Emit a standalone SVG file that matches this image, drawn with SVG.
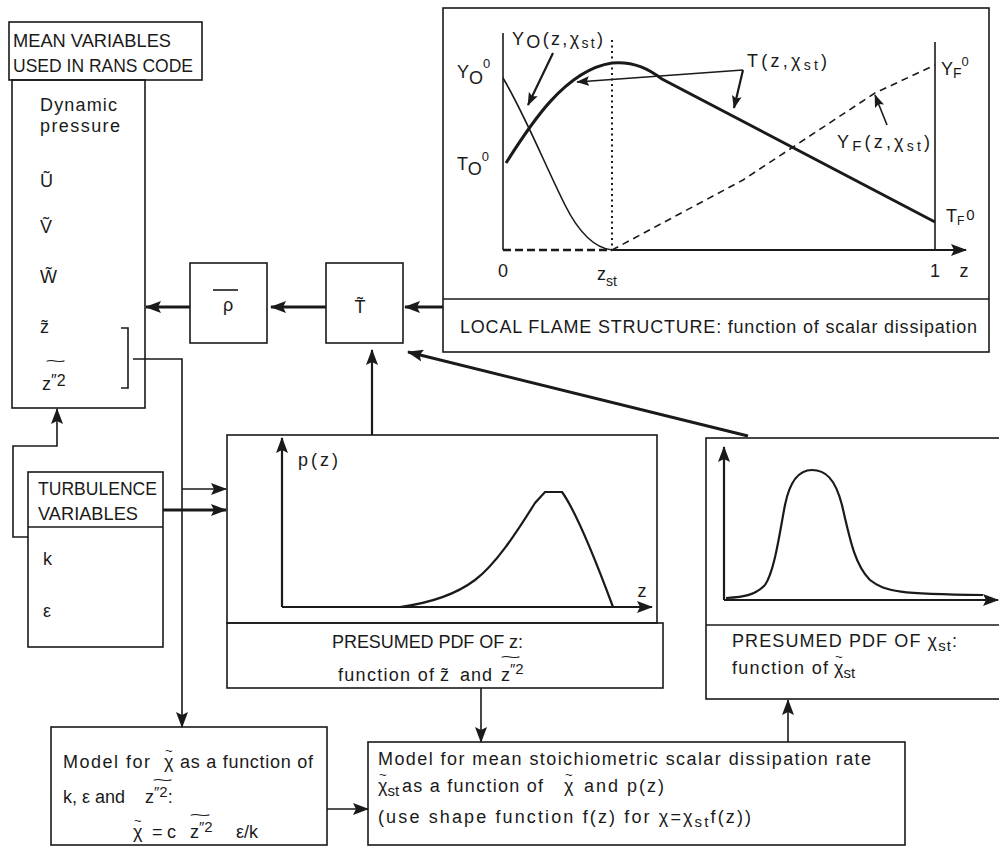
<svg xmlns="http://www.w3.org/2000/svg" width="999" height="850" viewBox="0 0 999 850">
<defs>
<style>
.b{fill:none;stroke:#1a1a1a;stroke-width:1.6}
.l{fill:none;stroke:#1a1a1a;stroke-width:1.6}
.m{fill:none;stroke:#1a1a1a;stroke-width:2.2}
.k{fill:none;stroke:#1a1a1a;stroke-width:3}
.t{font-family:"Liberation Sans",Arial,sans-serif;fill:#1a1a1a;font-size:18px}
.s{font-family:"Liberation Sans",Arial,sans-serif;fill:#1a1a1a;font-size:14px}
</style>
<marker id="ah" viewBox="0 0 16 12" refX="15" refY="6" markerWidth="16" markerHeight="12" markerUnits="userSpaceOnUse" orient="auto"><path d="M0,0L16,6L0,12L3,6Z" fill="#1a1a1a"/></marker>
<marker id="as" viewBox="0 0 16 12" refX="15" refY="6" markerWidth="13" markerHeight="10" markerUnits="userSpaceOnUse" orient="auto"><path d="M0,0L16,6L0,12L3,6Z" fill="#1a1a1a"/></marker>
</defs>
<rect width="999" height="850" fill="#fff"/>

<g id="mean-variables">
<rect class="b" x="9" y="22" width="193" height="58"/>
<text class="t" x="13" y="47" textLength="158" lengthAdjust="spacingAndGlyphs">MEAN VARIABLES</text>
<text class="t" x="13" y="72" textLength="180" lengthAdjust="spacingAndGlyphs">USED IN RANS CODE</text>
<rect class="b" x="12" y="80" width="133" height="328"/>
<text class="t" x="40" y="111" textLength="77">Dynamic</text>
<text class="t" x="40" y="132" textLength="80">pressure</text>
<text class="t" x="40" y="187">U&#x303;</text>
<text class="t" x="40" y="233">V&#x303;</text>
<text class="t" x="40" y="283">W&#x303;</text>
<text class="t" x="40" y="333">z&#x303;</text>
<text class="s" x="45" y="366" font-size="20" textLength="21" lengthAdjust="spacingAndGlyphs">~</text>
<text class="t" x="42" y="390">z<tspan dy="-4" font-size="16">″2</tspan></text>
<path class="l" d="M121,328H128V388H121"/>
</g>

<g id="rho">
<rect class="b" x="190" y="263" width="77" height="80"/>
<line class="l" x1="213" y1="290" x2="238" y2="290"/>
<text class="t" x="228" y="311" font-size="21" text-anchor="middle">ρ</text>
</g>

<g id="T-mean">
<rect class="b" x="326" y="263" width="77" height="80"/>
<text class="t" x="360" y="313" font-size="20" text-anchor="middle">T&#x303;</text>
</g>

<g id="flame-structure">
<rect class="b" x="443" y="8" width="546" height="344"/>
<line class="b" x1="443" y1="299" x2="989" y2="299"/>
<text class="t" x="460" y="333" textLength="517">LOCAL FLAME STRUCTURE: function of scalar dissipation</text>
<path class="l" d="M503,33V250"/>
<path class="l" d="M935,42V250"/>
<path class="m" marker-end="url(#ah)" d="M612,250H966"/>
<path d="M612,40V250" fill="none" stroke="#1a1a1a" stroke-width="2" stroke-dasharray="2 3.5"/>
<path d="M503,250H612" fill="none" stroke="#1a1a1a" stroke-width="2.5" stroke-dasharray="8 4"/>
<path d="M612,250L743,180L875,93L935,65" fill="none" stroke="#1a1a1a" stroke-width="1.6" stroke-dasharray="7 5"/>
<path class="k" d="M506,163C530,125 565,70 612,63C635,61 650,70 662,79L935,222"/>
<path class="l" d="M503,78C525,115 545,165 565,205C580,235 595,248 612,250"/>
<path class="m" marker-end="url(#as)" d="M553,53L528,105"/>
<path class="l" marker-end="url(#as)" d="M743,70L577,82"/>
<path class="m" marker-end="url(#as)" d="M743,70L734,108"/>
<path class="l" marker-end="url(#as)" d="M887,125L875,95"/>
<text class="t" x="512" y="45" font-size="17" textLength="91">Y<tspan dy="3">O</tspan><tspan dy="-3">(z,χ</tspan><tspan dy="3" font-size="14">st</tspan><tspan dy="-3">)</tspan></text>
<text class="t" x="747" y="67" font-size="17" textLength="80">T(z,χ<tspan dy="3" font-size="14">st</tspan><tspan dy="-3">)</tspan></text>
<text class="t" x="837" y="148" font-size="17" textLength="93">Y<tspan dy="3" font-size="15">F</tspan><tspan dy="-3">(z,χ</tspan><tspan dy="3" font-size="14">st</tspan><tspan dy="-3">)</tspan></text>
<text class="t" x="457" y="78" font-size="16">Y<tspan dy="6">O</tspan><tspan dy="-16" font-size="13">0</tspan></text>
<text class="t" x="457" y="170" font-size="16">T<tspan dy="5">O</tspan><tspan dy="-14" font-size="13">0</tspan></text>
<text class="t" x="941" y="75" font-size="16">Y<tspan dy="3" font-size="14">F</tspan><tspan dy="-12" font-size="13">0</tspan></text>
<text class="t" x="946" y="222" font-size="14">T<tspan dy="3" font-size="12">F</tspan><tspan dx="2" dy="-5" font-size="15">0</tspan></text>
<text class="t" x="503" y="277" font-size="16" text-anchor="middle">0</text>
<text class="t" x="597" y="280" font-size="16">z<tspan dy="6" font-size="14">st</tspan></text>
<text class="t" x="935" y="277" font-size="16" text-anchor="middle">1</text>
<text class="t" x="964" y="277" font-size="16" text-anchor="middle">z</text>
</g>

<g id="turbulence-variables">
<rect class="b" x="28" y="472" width="135" height="175"/>
<line class="b" x1="28" y1="527" x2="163" y2="527"/>
<text class="t" x="38" y="495" textLength="119" lengthAdjust="spacingAndGlyphs">TURBULENCE</text>
<text class="t" x="38" y="520" textLength="100" lengthAdjust="spacingAndGlyphs">VARIABLES</text>
<text class="t" x="43" y="565">k</text>
<text class="t" x="43" y="617">ε</text>
</g>

<g id="pdf-z">
<rect class="b" x="227" y="435" width="430" height="188"/>
<rect class="b" x="227" y="623" width="436" height="65"/>
<path class="m" marker-end="url(#ah)" d="M282,607V438"/>
<path class="m" marker-end="url(#ah)" d="M282,607H652"/>
<path class="m" d="M400,607C430,603 455,595 475,580C495,565 515,535 535,503L545,492L562,492C575,510 590,545 613,607"/>
<text class="t" x="298" y="466" font-size="16" textLength="40">p(z)</text>
<text class="t" x="642" y="597" font-size="16" text-anchor="middle">z</text>
<text class="t" x="332" y="648" textLength="191">PRESUMED PDF OF z:</text>
<text class="t" x="338" y="681" textLength="96">function of</text>
<text class="t" x="440" y="681">z&#x303;</text>
<text class="t" x="460" y="681" textLength="32">and</text>
<text class="s" x="500" y="662" font-size="18" textLength="21" lengthAdjust="spacingAndGlyphs">~</text>
<text class="t" x="501" y="681">z<tspan dy="-7" font-size="15">″2</tspan></text>
</g>

<g id="pdf-chi">
<rect class="b" x="706" y="438" width="310" height="261"/>
<line class="b" x1="706" y1="625" x2="999" y2="625"/>
<path class="m" marker-end="url(#ah)" d="M724,600V447"/>
<path class="m" marker-end="url(#ah)" d="M724,600H998"/>
<path class="m" d="M726,598C745,597 755,595 765,585C775,570 780,530 785,505C790,480 800,470 812,470C825,470 835,478 842,505C850,540 855,565 870,580C885,592 900,594 983,595"/>
<text class="t" x="732" y="647" textLength="225">PRESUMED PDF OF χ<tspan dy="4" font-size="15">st</tspan><tspan dy="-4">:</tspan></text>
<text class="t" x="732" y="674" textLength="96">function of</text>
<text class="t" x="834" y="674">χ<tspan dx="-8.5" dy="-13" font-size="13">~</tspan><tspan dx="1" dy="17" font-size="15">st</tspan></text>
</g>

<g id="model-chi">
<rect class="b" x="51" y="727" width="276" height="118"/>
<text class="t" x="63" y="768" textLength="87">Model for</text>
<text class="t" x="164" y="768">χ<tspan dx="-8.5" dy="-13" font-size="13">~</tspan></text>
<text class="t" x="180" y="768" textLength="133">as a function of</text>
<text class="s" x="152" y="785" font-size="18" textLength="21" lengthAdjust="spacingAndGlyphs">~</text>
<text class="t" x="63" y="803">k, ε and</text>
<text class="t" x="145" y="803">z<tspan dy="-6" font-size="15">″2</tspan><tspan dy="6">:</tspan></text>
<text class="s" x="189" y="820" font-size="20" textLength="22" lengthAdjust="spacingAndGlyphs">~</text>
<text class="t" x="133" y="838">χ<tspan dx="-8.5" dy="-13" font-size="13">~</tspan></text>
<text class="t" x="152" y="838">=</text>
<text class="t" x="167" y="838">c</text>
<text class="t" x="190" y="838">z<tspan dy="-6" font-size="15">″2</tspan></text>
<text class="t" x="236" y="838">ε/k</text>
</g>

<g id="model-chi-st">
<rect class="b" x="368" y="742" width="537" height="103"/>
<text class="t" x="378" y="765" textLength="493">Model for mean stoichiometric scalar  dissipation rate</text>
<text class="t" x="378" y="792">χ<tspan dx="-8.5" dy="-13" font-size="13">~</tspan><tspan dx="1" dy="17" font-size="15">st</tspan></text>
<text class="t" x="402" y="792" textLength="141">as a function of</text>
<text class="t" x="564" y="792">χ<tspan dx="-8.5" dy="-13" font-size="13">~</tspan></text>
<text class="t" x="584" y="792" textLength="80">and p(z)</text>
<text class="t" x="378" y="823" textLength="373">(use shape function f(z) for χ=χ<tspan dy="4" font-size="15">st</tspan><tspan dy="-4">f(z))</tspan></text>
</g>

<g id="connectors">
<path class="k" marker-end="url(#ah)" d="M190,307H146"/>
<path class="k" marker-end="url(#ah)" d="M326,307H271"/>
<path class="k" marker-end="url(#ah)" d="M443,307H405"/>
<path class="m" marker-end="url(#ah)" d="M372,435V350"/>
<path class="k" marker-end="url(#ah)" d="M748,436L408,352"/>
<path class="l" marker-end="url(#ah)" d="M133,359H182V727"/>
<path class="l" marker-end="url(#ah)" d="M28,537H13V446H57V409"/>
<path class="l" marker-end="url(#ah)" d="M182,489H226"/>
<path class="k" marker-end="url(#ah)" d="M163,510H226"/>
<path class="l" marker-end="url(#ah)" d="M481,688V742"/>
<path class="l" marker-end="url(#ah)" d="M788,742V700"/>
<path class="l" marker-end="url(#ah)" d="M327,809H368"/>
</g>
</svg>
